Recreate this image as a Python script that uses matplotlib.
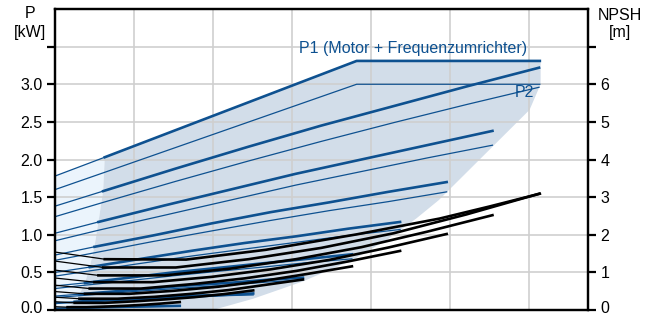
import numpy as np
import matplotlib
matplotlib.use('Agg')
import matplotlib.pyplot as plt
import matplotlib.transforms as mtransforms
from matplotlib.patches import Polygon

plt.rcParams['font.family'] = ['Liberation Sans', 'DejaVu Sans']

# flow points per speed curve (no unit on the chart, grid step = 1)
q = [
    [0, 0.61, 1.53, 2.45, 3.37, 4.29, 5.21, 6.13],
    [0, 0.55, 1.39, 2.22, 3.05, 3.88, 4.71, 5.54],
    [0, 0.50, 1.24, 1.98, 2.73, 3.47, 4.22, 4.96],
    [0, 0.44, 1.09, 1.75, 2.40, 3.06, 3.71, 4.37],
    [0, 0.38, 0.94, 1.50, 2.07, 2.63, 3.20, 3.76],
    [0, 0.31, 0.79, 1.26, 1.73, 2.20, 2.67, 3.14],
    [0, 0.25, 0.63, 1.00, 1.38, 1.76, 2.13, 2.51],
    [0, 0.16, 0.40, 0.63, 0.87, 1.11, 1.34, 1.58],
]

# P1 [kW]
p1 = [
    [1.38, 1.58, 1.88, 2.17, 2.45, 2.71, 2.97, 3.22],
    [1.02, 1.17, 1.39, 1.60, 1.81, 2.00, 2.19, 2.38],
    [0.73, 0.84, 0.99, 1.15, 1.30, 1.43, 1.57, 1.70],
    [0.50, 0.57, 0.68, 0.79, 0.89, 0.98, 1.08, 1.17],
    [0.32, 0.36, 0.43, 0.50, 0.56, 0.62, 0.68, 0.74],
    [0.185, 0.21, 0.25, 0.29, 0.33, 0.36, 0.40, 0.43],
    [0.095, 0.11, 0.13, 0.15, 0.17, 0.19, 0.20, 0.22],
    [0.024, 0.027, 0.032, 0.037, 0.042, 0.047, 0.051, 0.055],
]

# P2 [kW]
p2 = [
    [1.24, 1.43, 1.71, 1.98, 2.24, 2.49, 2.73, 2.96],
    [0.92, 1.06, 1.26, 1.46, 1.66, 1.84, 2.02, 2.19],
    [0.66, 0.76, 0.91, 1.05, 1.19, 1.32, 1.44, 1.57],
    [0.45, 0.52, 0.62, 0.72, 0.81, 0.90, 0.99, 1.07],
    [0.285, 0.33, 0.39, 0.455, 0.515, 0.57, 0.63, 0.68],
    [0.166, 0.19, 0.23, 0.265, 0.30, 0.33, 0.37, 0.40],
    [0.085, 0.10, 0.12, 0.136, 0.154, 0.17, 0.19, 0.20],
    [0.021, 0.025, 0.029, 0.034, 0.039, 0.043, 0.047, 0.051],
]

# NPSH [m]
npsh = [
    [1.30, 1.13, 1.13, 1.35, 1.65, 2.04, 2.54, 3.09],
    [1.06, 0.92, 0.92, 1.10, 1.35, 1.67, 2.08, 2.52],
    [0.85, 0.74, 0.74, 0.88, 1.08, 1.33, 1.66, 2.02],
    [0.66, 0.57, 0.57, 0.69, 0.84, 1.04, 1.29, 1.57],
    [0.49, 0.43, 0.43, 0.51, 0.62, 0.77, 0.96, 1.16],
    [0.34, 0.30, 0.30, 0.35, 0.43, 0.53, 0.67, 0.81],
    [0.22, 0.19, 0.19, 0.23, 0.28, 0.34, 0.42, 0.52],
    [0.087, 0.075, 0.075, 0.09, 0.11, 0.136, 0.17, 0.21],
]

# max curve (power limited)
env_q = [0, 0.63, 3.82, 6.14]
env_p1 = [1.78, 2.03, 3.31, 3.31]
env_p2 = [1.60, 1.83, 3.00, 3.00]
env_nq = [0, 0.63, 1.66, 2.67, 3.82, 4.87, 5.50, 6.14]
env_npsh = [1.54, 1.35, 1.34, 1.60, 2.01, 2.43, 2.75, 3.09]

# operating area outlines
area_q = [0.63, 3.82, 6.15, 6.15, 6.01, 4.86, 4.58, 4.20, 3.76, 3.14, 2.51, 2.00,
          0.15, 0.16, 0.25, 0.31, 0.38, 0.44, 0.50, 0.55, 0.61]
area_p = [2.03, 3.31, 3.31, 3.00, 2.66, 1.46, 1.22, 0.93, 0.66, 0.38, 0.15, 0.0,
          0.0, 0.027, 0.11, 0.21, 0.36, 0.57, 0.84, 1.17, 1.58]
low_q = [0, 0, 0.63, 0.61, 0.55, 0.50, 0.44, 0.38, 0.31, 0.25, 0.16, 0.15]
low_p = [0, 1.78, 2.03, 1.58, 1.17, 0.84, 0.57, 0.36, 0.21, 0.11, 0.027, 0.0]

BLUE = '#0e5190'
THIN = 0.9
THICK = 1.9
FS = 11.5

fig = plt.figure(figsize=(6.54, 3.17), dpi=100)
ax = fig.add_axes([55/654, 7/317, 533/654, 301/317])
ax2 = ax.twinx()

ax.add_patch(Polygon(np.column_stack([low_q, low_p]), closed=True,
                     facecolor='#ebf4fc', edgecolor='none', zorder=0.2))
ax.add_patch(Polygon(np.column_stack([area_q, area_p]), closed=True,
                     facecolor='#d2dde9', edgecolor='none', zorder=0.3))

ax.set_xlim(0, 6.75)
ax.set_ylim(0, 4.0)
ax2.set_ylim(0, 8)

ax.set_xticks(range(1, 7))
ax.tick_params(axis='x', length=0, labelbottom=False)
ax.set_yticks(np.arange(0, 3.6, 0.5))
ax.set_yticklabels(['0.0', '0.5', '1.0', '1.5', '2.0', '2.5', '3.0', ''])
ax2.set_yticks(range(0, 8))
ax2.set_yticklabels(['0', '1', '2', '3', '4', '5', '6', ''])
for a in (ax, ax2):
    a.tick_params(axis='y', length=6, width=1.6, pad=3, labelsize=FS, colors='black')
    for s in a.spines.values():
        s.set_linewidth(1.6)
ax.set_axisbelow(True)
ax.grid(True, color='#cfcfcf', linewidth=1.2)

# max curve
ax.plot(env_q[:2], env_p1[:2], color=BLUE, lw=THIN)
ax.plot(env_q[1:], env_p1[1:], color=BLUE, lw=THICK)
ax.plot(env_q, env_p2, color=BLUE, lw=THIN)

for i in range(len(q)):
    ax.plot(q[i][:2], p1[i][:2], color=BLUE, lw=THIN)
    ax.plot(q[i][1:], p1[i][1:], color=BLUE, lw=THICK)
    ax.plot(q[i], p2[i], color=BLUE, lw=THIN)

ax2.plot(env_nq[:2], env_npsh[:2], color='black', lw=THIN)
ax2.plot(env_nq[1:], env_npsh[1:], color='black', lw=THICK)
for i in range(len(q)):
    ax2.plot(q[i][:2], npsh[i][:2], color='black', lw=THIN)
    ax2.plot(q[i][1:], npsh[i][1:], color='black', lw=THICK)

ax.text(4.54, 3.48, 'P1 (Motor + Frequenzumrichter)', color=BLUE, fontsize=FS,
        ha='center', va='center')
ax.text(5.95, 2.89, 'P2', color=BLUE, fontsize=FS, ha='center', va='center')

fig.text(30/654, 1 - 14/317, 'P', fontsize=FS, ha='center', va='center')
fig.text(30/654, 1 - 33/317, '[kW]', fontsize=FS, ha='center', va='center')
fig.text(620/654, 1 - 16/317, 'NPSH', fontsize=FS, ha='center', va='center')
fig.text(620/654, 1 - 33/317, '[m]', fontsize=FS, ha='center', va='center')

# lift the two zero labels a touch so they stay inside the picture
fig.canvas.draw()
lift = mtransforms.ScaledTranslation(0, 2.5/72, fig.dpi_scale_trans)
for a in (ax, ax2):
    t = a.yaxis.get_major_ticks()[0]
    for lab in (t.label1, t.label2):
        lab.set_transform(lab.get_transform() + lift)

fig.savefig('out.png', dpi=100)
